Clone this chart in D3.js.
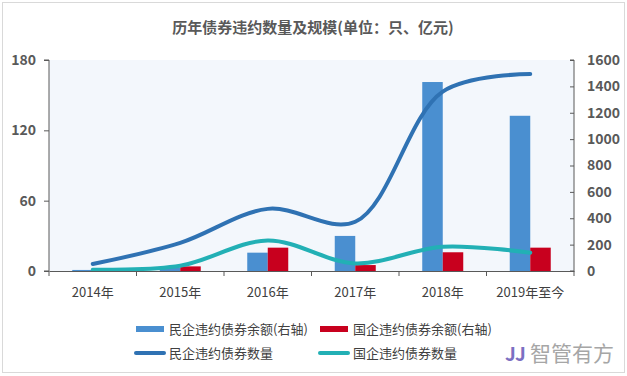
<!DOCTYPE html>
<html>
<head>
<meta charset="utf-8">
<script src="https://cdn.jsdelivr.net/npm/d3@7"></script>
<style>
  body { margin: 0; background: #fff; }
  svg text { font-family: "Noto Sans CJK SC", "Microsoft YaHei", sans-serif; }
</style>
</head>
<body>
<div id="chart"></div>
<script>
// categories and series
const years = ["2014年", "2015年", "2016年", "2017年", "2018年", "2019年至今"];
const privateBalance = [8, 25, 139, 266, 1433, 1177];   // right axis
const stateBalance = [0, 35, 177, 45, 142, 177];        // right axis
const privateCount = [6, 24, 53, 42, 153, 168];         // left axis
const stateCount = [1, 4.5, 26, 6.5, 20.7, 15.6];       // left axis
const leftTicks = [0, 60, 120, 180];
const rightTicks = [0, 200, 400, 600, 800, 1000, 1200, 1400, 1600];

const W = 627, H = 376;
const plot = { left: 49, right: 574, top: 60, bottom: 271 };

const svg = d3.select("#chart").append("svg")
    .attr("width", W)
    .attr("height", H);

// outer border
svg.append("rect")
    .attr("x", 2.5).attr("y", 2.5)
    .attr("width", W - 5).attr("height", H - 6)
    .attr("fill", "#fff")
    .attr("stroke", "#d9d9d9");

// plot background
svg.append("rect")
    .attr("x", plot.left).attr("y", plot.top)
    .attr("width", plot.right - plot.left).attr("height", plot.bottom - plot.top)
    .attr("fill", "#f3f7fc");

const x = d3.scaleBand().domain(years).range([plot.left, plot.right]).padding(0);
const yL = d3.scaleLinear().domain([0, 180]).range([plot.bottom, plot.top]);
const yR = d3.scaleLinear().domain([0, 1600]).range([plot.bottom, plot.top]);
const sub = d3.scaleBand().domain(["p", "s"]).range([-20.5, 20.5]);

// title
svg.append("text")
    .attr("x", 313).attr("y", 33)
    .attr("text-anchor", "middle")
    .attr("font-size", 15)
    .attr("font-weight", "bold")
    .attr("fill", "#595959")
    .text("历年债券违约数量及规模(单位：只、亿元)");

// bars
const barData = years.map((d, i) => ({ year: d, p: privateBalance[i], s: stateBalance[i] }));
const barColor = { p: "#4a8fd0", s: "#c8001e" };
svg.append("g").selectAll("g")
    .data(barData)
    .join("g")
    .attr("transform", d => `translate(${x(d.year) + x.bandwidth() / 2},0)`)
    .selectAll("rect")
    .data(d => ["p", "s"].map(k => ({ k, v: d[k] })))
    .join("rect")
    .attr("x", d => sub(d.k))
    .attr("width", sub.bandwidth())
    .attr("y", d => yR(d.v))
    .attr("height", d => plot.bottom - yR(d.v))
    .attr("fill", d => barColor[d.k]);

// lines
const line = d3.line()
    .x((d, i) => x(years[i]) + x.bandwidth() / 2)
    .y(d => yL(d))
    .curve(d3.curveCatmullRom.alpha(0.5));

svg.append("path")
    .datum(stateCount)
    .attr("d", line)
    .attr("fill", "none")
    .attr("stroke", "#22b0b5")
    .attr("stroke-width", 4)
    .attr("stroke-linecap", "round");

svg.append("path")
    .datum(privateCount)
    .attr("d", line)
    .attr("fill", "none")
    .attr("stroke", "#2f72b3")
    .attr("stroke-width", 4)
    .attr("stroke-linecap", "round");

// axes
const axisColor = "#595959";
const gL = svg.append("g")
    .attr("transform", `translate(${plot.left},0)`)
    .call(d3.axisLeft(yL).tickValues(leftTicks).tickSize(5).tickPadding(8));
const gR = svg.append("g")
    .attr("transform", `translate(${plot.right},0)`)
    .call(d3.axisRight(yR).tickValues(rightTicks).tickFormat(d3.format("d"))
        .tickSize(-4).tickPadding(13));
const gX = svg.append("g")
    .attr("transform", `translate(0,${plot.bottom})`)
    .call(d3.axisBottom(x).tickValues([]).tickSizeOuter(0));

// category boundary ticks
svg.append("g").selectAll("line")
    .data(years.concat([null]))
    .join("line")
    .attr("x1", (d, i) => plot.left + i * x.step())
    .attr("x2", (d, i) => plot.left + i * x.step())
    .attr("y1", plot.bottom)
    .attr("y2", plot.bottom + 5)
    .attr("stroke", axisColor);

[gL, gR, gX].forEach(g => {
    g.selectAll("path, line").attr("stroke", axisColor);
    g.selectAll("text")
        .attr("font-family", "Liberation Sans, Arial, sans-serif")
        .attr("font-weight", "bold")
        .attr("font-size", 14)
        .attr("fill", "#595959");
});
gR.select(".domain").attr("d", `M-4,${plot.top}H0V${plot.bottom}H-4`);
gL.select(".domain").attr("d", `M-5,${plot.top}H0V${plot.bottom}H-5`);

// x labels
svg.append("g").selectAll("text")
    .data(years)
    .join("text")
    .attr("x", d => x(d) + x.bandwidth() / 2)
    .attr("y", 297)
    .attr("text-anchor", "middle")
    .attr("font-size", 13)
    .attr("fill", "#404040")
    .text(d => d);

// legend
const legend = [
    { label: "民企违约债券余额(右轴)", color: "#4a8fd0", type: "rect", x: 136, y: 329 },
    { label: "国企违约债券余额(右轴)", color: "#c8001e", type: "rect", x: 320, y: 329 },
    { label: "民企违约债券数量", color: "#2f72b3", type: "line", x: 136, y: 353 },
    { label: "国企违约债券数量", color: "#22b0b5", type: "line", x: 320, y: 353 }
];
const lg = svg.append("g").selectAll("g")
    .data(legend)
    .join("g")
    .attr("transform", d => `translate(${d.x},${d.y})`);
lg.filter(d => d.type === "rect").append("rect")
    .attr("x", 0).attr("y", -3).attr("width", 28).attr("height", 6)
    .attr("fill", d => d.color);
lg.filter(d => d.type === "line").append("line")
    .attr("x1", 0).attr("x2", 28).attr("y1", 0).attr("y2", 0)
    .attr("stroke", d => d.color).attr("stroke-width", 4).attr("stroke-linecap", "round");
lg.append("text")
    .attr("x", 33).attr("y", 5)
    .attr("font-size", 13)
    .attr("fill", "#404040")
    .text(d => d.label);

// brand mark
const brand = svg.append("g").attr("transform", "translate(505,354)");
brand.append("text")
    .attr("x", 0).attr("y", 7)
    .attr("font-size", 19)
    .attr("font-weight", "bold")
    .attr("fill", "#7c6fc2")
    .text("JJ");
brand.append("text")
    .attr("x", 25).attr("y", 7)
    .attr("font-size", 21)
    .attr("fill", "#a6a6a6")
    .text("智管有方");
</script>
</body>
</html>
